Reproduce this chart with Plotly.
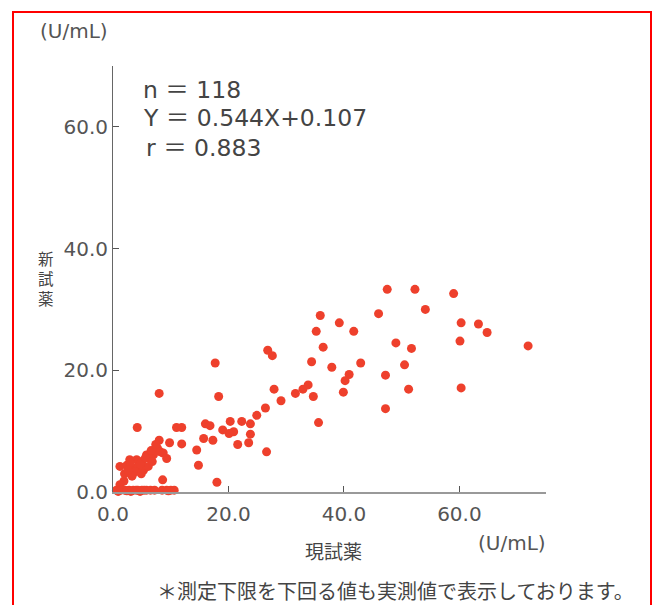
import plotly.graph_objects as go

# ---- data (U/mL): current reagent (x) vs new reagent (y) ----
current_reagent = [
    47.5, 52.3, 59.0, 54.1, 46.0, 35.9, 39.2, 35.2, 41.7, 60.3, 63.3, 64.8,
    49.0, 51.7, 60.1, 71.9, 36.4, 34.4, 42.9, 37.9, 50.5, 47.2, 40.9, 40.2,
    39.9, 51.2, 60.3, 47.2, 35.6, 33.8, 32.9, 31.6, 34.7, 27.9, 29.1, 26.8,
    27.6, 26.4, 24.9, 17.7, 18.3, 23.8, 23.8, 23.5, 22.3, 20.3, 20.9, 20.1,
    19.0, 21.6, 26.6, 16.0, 16.8, 15.7, 17.3, 18.0, 14.5, 14.8,
    8.0, 4.2, 11.0, 11.9, 8.0, 9.8, 11.9, 7.7, 8.2, 8.7, 5.8, 7.0, 9.3, 6.4,
    2.9, 4.1, 5.0, 1.2, 2.4, 3.5, 4.4, 5.3, 6.1, 3.8, 1.9, 8.6, 1.2,
    0.6, 1.3, 2.0, 2.8, 3.5, 4.3, 5.0, 5.8, 6.5, 7.2, 8.5, 9.3, 10.0, 10.6,
    2.0, 3.0, 4.7, 5.6, 6.6, 7.4, 3.3, 2.6, 4.9, 6.8,
    0.9, 1.6, 2.4, 3.1, 4.0, 4.7, 5.4, 9.6, 0.9,
]
new_reagent = [
    33.3, 33.3, 32.6, 30.0, 29.3, 29.0, 27.8, 26.4, 26.4, 27.8, 27.6, 26.2,
    24.5, 23.6, 24.8, 24.0, 23.8, 21.4, 21.2, 20.5, 20.9, 19.2, 19.3, 18.3,
    16.4, 16.9, 17.1, 13.7, 11.4, 17.6, 16.9, 16.2, 15.7, 16.9, 15.0, 23.3,
    22.4, 13.8, 12.6, 21.2, 15.7, 11.2, 9.5, 8.1, 11.6, 11.6, 9.9, 9.6,
    10.2, 7.8, 6.6, 11.2, 10.9, 8.8, 8.5, 1.6, 6.9, 4.4,
    16.2, 10.6, 10.6, 10.6, 8.5, 8.1, 7.9, 7.2, 6.6, 6.4, 6.1, 6.1, 5.5, 5.5,
    5.3, 5.3, 5.0, 4.2, 4.4, 3.9, 4.2, 3.6, 4.2, 3.3, 1.8, 2.0, 1.2,
    0.3, 0.3, 0.3, 0.3, 0.3, 0.3, 0.3, 0.3, 0.3, 0.3, 0.3, 0.3, 0.3, 0.3,
    3.0, 4.8, 4.6, 5.6, 6.8, 7.8, 2.6, 3.6, 3.0, 5.0,
    0.2, 0.4, 0.2, 0.1, 0.3, 0.1, 0.3, 0.2, 0.1,
]
tick_values = [0, 20, 40, 60]
tick_labels = ["0.0", "20.0", "40.0", "60.0"]
stats_lines = ["n ＝ 118", "Y ＝ 0.544X+0.107", "r ＝ 0.883"]

# ---- layout geometry (pixels) ----
W, H = 658, 605
ML, MR, MT, MB = 113, 112, 66, 113
PW, PH = W - ML - MR, H - MT - MB


def px(x):
    return (x - ML) / PW


def py(y):
    return (H - MB - y) / PH


NUM_FONT = "DejaVu Sans, Noto Sans CJK JP"
JP_FONT = "Noto Sans CJK JP"
GREY = "#555555"

fig = go.Figure()
fig.add_trace(go.Scatter(
    x=current_reagent, y=new_reagent, mode="markers",
    marker=dict(color="rgb(238,64,44)", size=9, line=dict(width=0)),
    cliponaxis=False, showlegend=False,
))

fig.update_layout(
    width=W, height=H,
    margin=dict(l=ML, r=MR, t=MT, b=MB, pad=0),
    paper_bgcolor="white", plot_bgcolor="white",
    xaxis=dict(
        range=[0, 75], tickvals=tick_values, ticktext=tick_labels,
        showgrid=False, zeroline=False, showline=True,
        linecolor="#999999", linewidth=2,
        ticks="inside", ticklen=6, tickcolor=GREY, tickwidth=1,
        ticklabelstandoff=3,
        tickfont=dict(family=NUM_FONT, size=20, color=GREY),
        fixedrange=True,
    ),
    yaxis=dict(
        range=[0, 70], tickvals=tick_values, ticktext=tick_labels,
        showgrid=False, zeroline=False, showline=True,
        linecolor="#666666", linewidth=1,
        ticks="inside", ticklen=6, tickcolor=GREY, tickwidth=1,
        tickfont=dict(family=NUM_FONT, size=20, color=GREY),
        fixedrange=True,
    ),
)

# red frame
fig.add_shape(type="rect", xref="paper", yref="paper",
              x0=px(13), x1=px(651), y0=py(640), y1=py(12),
              line=dict(color="red", width=2), fillcolor="rgba(0,0,0,0)",
              layer="above")

annotations = []
# stats text
for txt, (x, y) in zip(stats_lines, [(141, 90), (141, 118), (144, 148)]):
    annotations.append(dict(text=txt, x=px(x), y=py(y), xref="paper", yref="paper",
                            xanchor="left", yanchor="middle", showarrow=False,
                            font=dict(family=NUM_FONT, size=23.5, color="#444444")))
# unit labels
annotations.append(dict(text="(U/mL)", x=px(74), y=py(31), xref="paper", yref="paper",
                        xanchor="center", yanchor="middle", showarrow=False,
                        font=dict(family=NUM_FONT, size=20, color=GREY)))
annotations.append(dict(text="(U/mL)", x=px(512), y=py(543), xref="paper", yref="paper",
                        xanchor="center", yanchor="middle", showarrow=False,
                        font=dict(family=NUM_FONT, size=20, color=GREY)))
# axis titles
annotations.append(dict(text="現試薬", x=px(333), y=py(550), xref="paper", yref="paper",
                        xanchor="center", yanchor="middle", showarrow=False,
                        font=dict(family=JP_FONT, size=19, color="#444444")))
annotations.append(dict(text="新<br>試<br>薬", x=px(46), y=py(278), xref="paper", yref="paper",
                        xanchor="center", yanchor="middle", showarrow=False,
                        font=dict(family=JP_FONT, size=15.5, color="#444444")))
# footnote
annotations.append(dict(text="＊測定下限を下回る値も実測値で表示しております。",
                        x=px(395), y=py(590), xref="paper", yref="paper",
                        xanchor="center", yanchor="middle", showarrow=False,
                        font=dict(family=JP_FONT, size=20, color="#444444")))
fig.update_layout(annotations=annotations)

fig.write_html("out.html")
